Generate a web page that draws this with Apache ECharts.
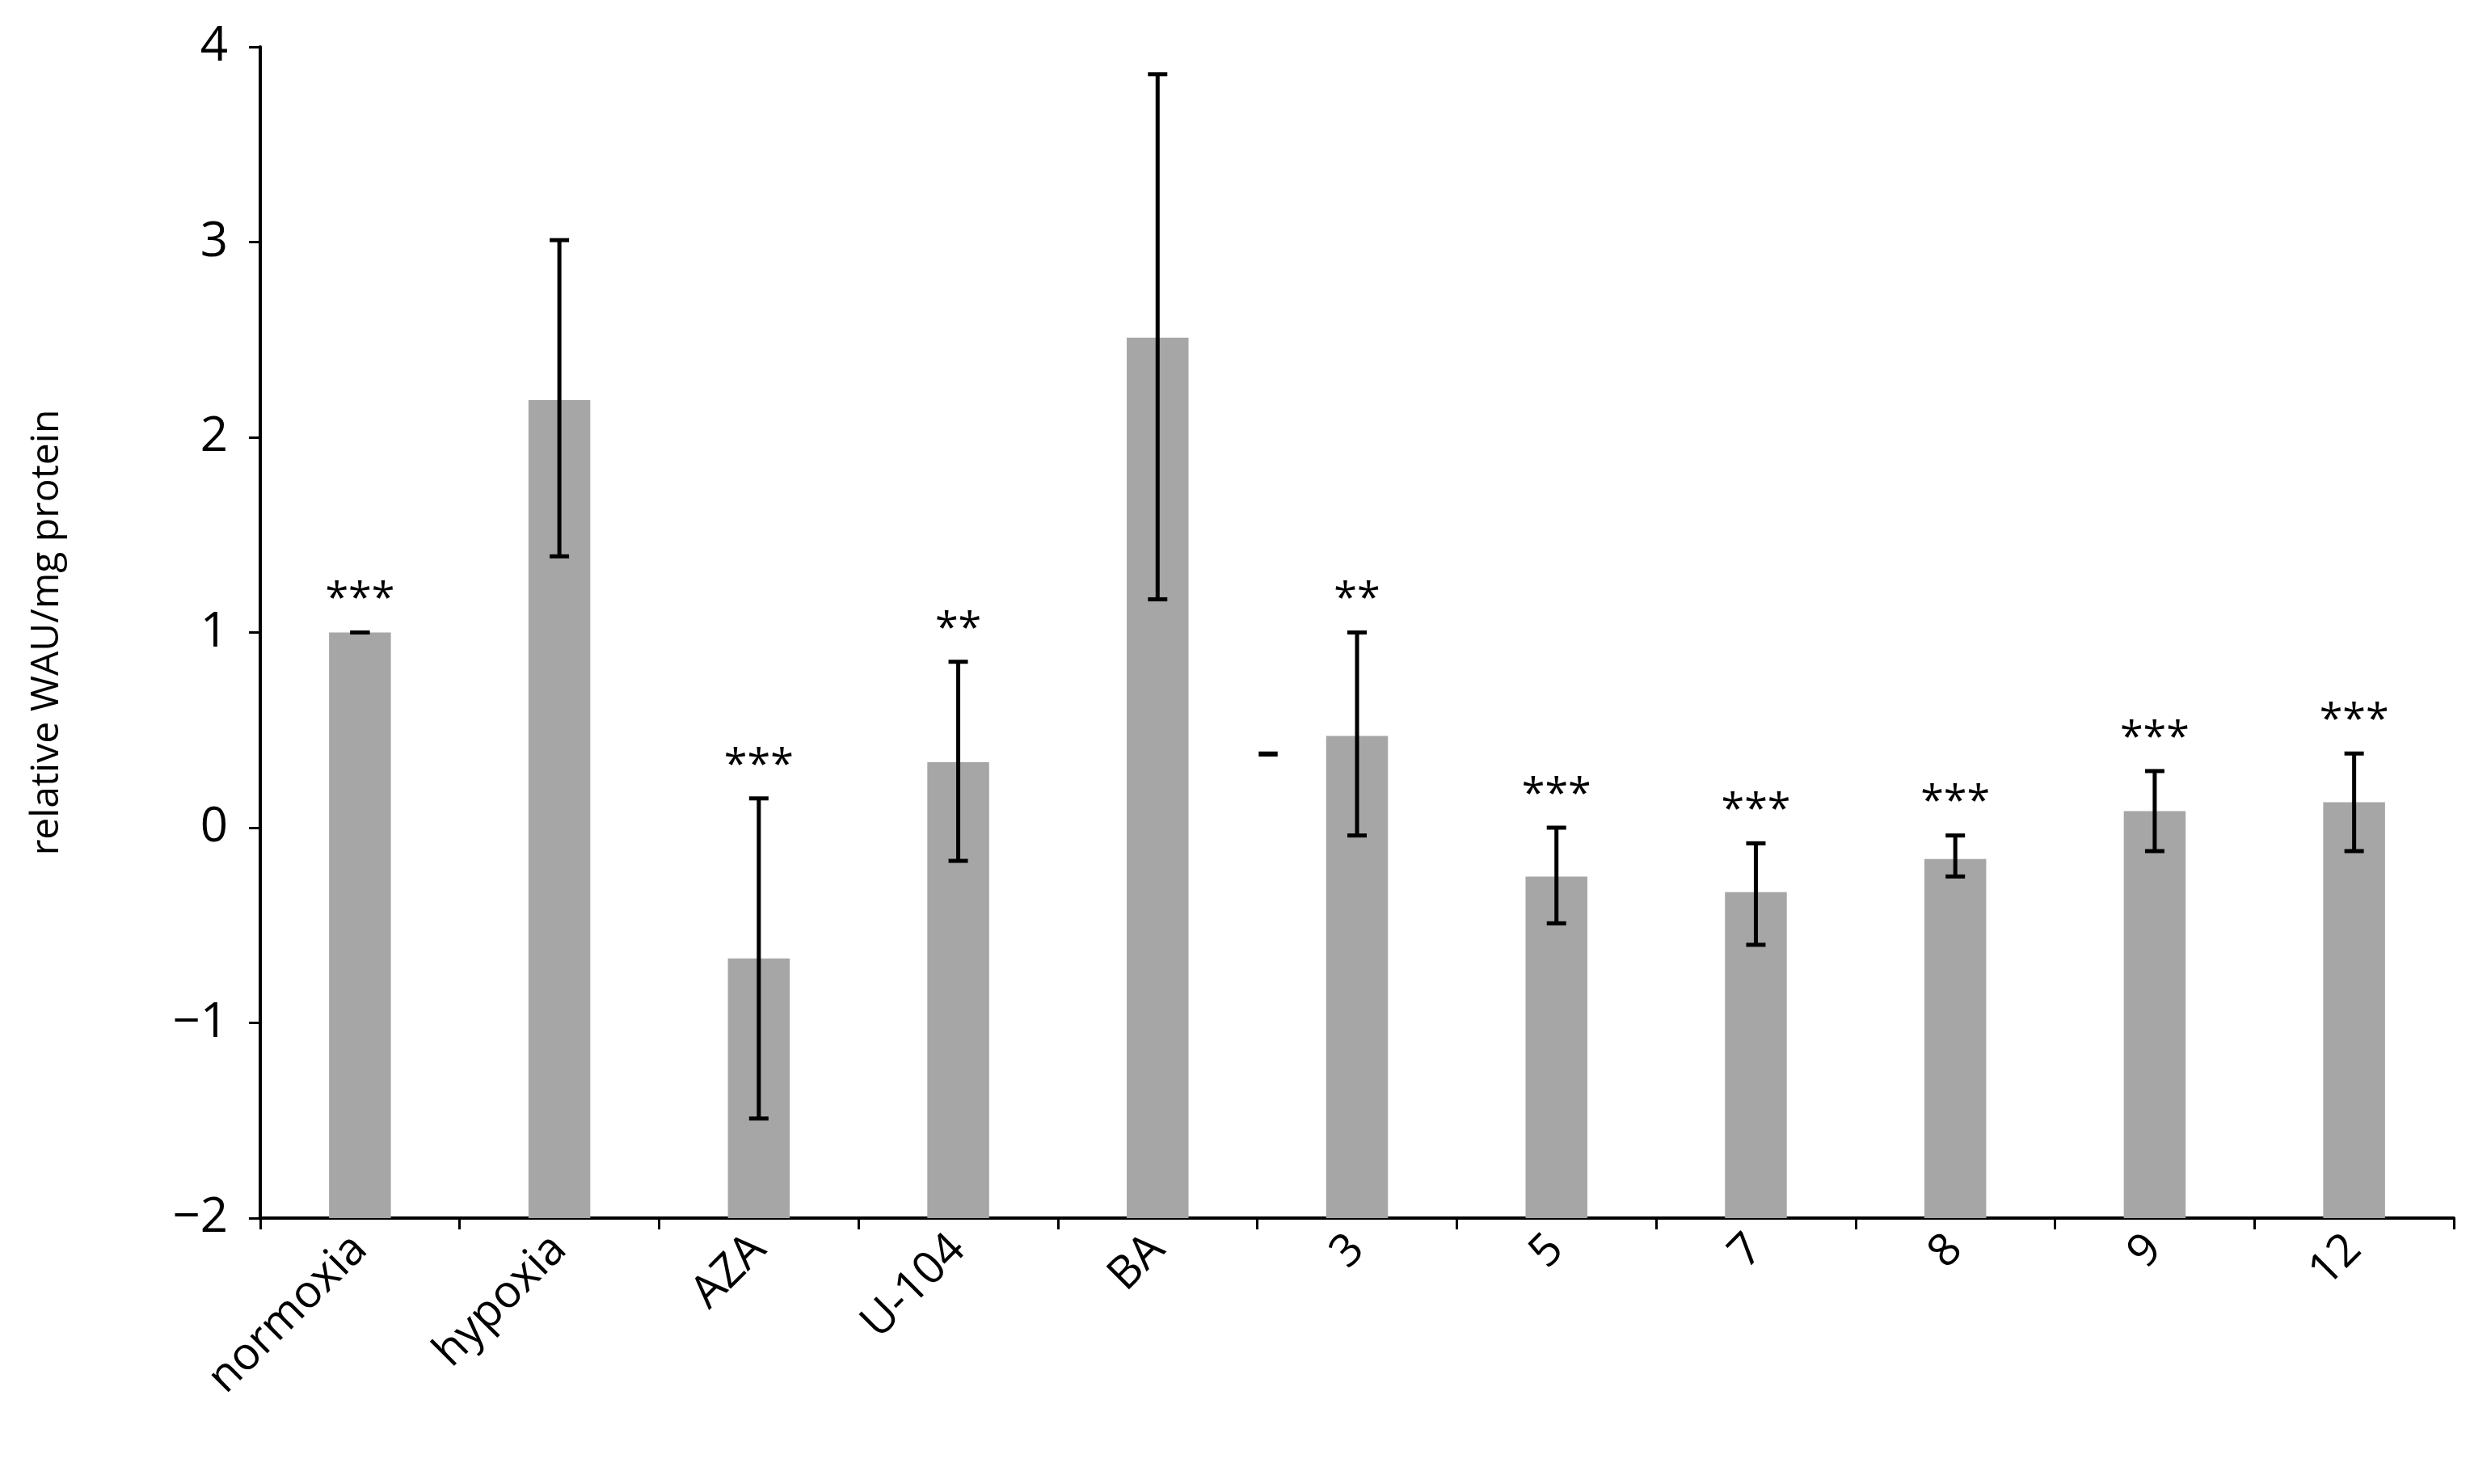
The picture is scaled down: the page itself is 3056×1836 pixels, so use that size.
<!DOCTYPE html>
<html><head><meta charset="utf-8">
<script src="https://cdn.jsdelivr.net/npm/echarts@6/dist/echarts.min.js"></script>
<style>html,body{margin:0;background:#fff}#c{width:3056px;height:1836px}</style>
</head><body><div id="c"></div>
<script>
var categories = ['normoxia','hypoxia','AZA','U-104','BA','3','5','7','8','9','12'];
var means = [1.0, 2.19, -0.67, 0.335, 2.51, 0.47, -0.25, -0.33, -0.16, 0.085, 0.13];
var errLow = [1.0, 1.39, -1.49, -0.17, 1.17, -0.04, -0.49, -0.6, -0.25, -0.12, -0.12];
var errHigh = [1.0, 3.01, 0.15, 0.85, 3.86, 1.0, 0.0, -0.08, -0.04, 0.29, 0.38];
var stars = ['***','','***','**','','**','***','***','***','***','***'];
var yMin = -2, yMax = 4;

var chart = echarts.init(document.getElementById('c'));
var font = 'Open Sans';
chart.setOption({
  animation: false,
  grid: {left: 322, right: 20, top: 58, bottom: 329},
  xAxis: {
    type: 'category', data: categories,
    axisLine: {onZero: false, lineStyle: {color: '#000', width: 4}},
    axisTick: {show: true, length: 14, lineStyle: {color: '#000', width: 3}},
    axisLabel: {rotate: 45, color: '#000', fontSize: 56, fontFamily: font, margin: 30}
  },
  yAxis: {
    type: 'value', min: yMin, max: yMax, interval: 1,
    name: 'relative WAU/mg protein', nameLocation: 'middle', nameGap: 240,
    nameTextStyle: {fontSize: 48, fontFamily: font, color: '#000'},
    splitLine: {show: false},
    axisLine: {show: true, lineStyle: {color: '#000', width: 4}},
    axisTick: {show: true, length: 14, lineStyle: {color: '#000', width: 3}},
    axisLabel: {color: '#000', fontSize: 60, fontFamily: font, margin: 40,
      formatter: function (v) { return v < 0 ? '\u2212' + (-v) : v; }}
  },
  series: [{
    type: 'custom',
    data: means.map(function (m, i) { return [i, m, errLow[i], errHigh[i]]; }),
    renderItem: function (params, api) {
      var i = api.value(0);
      var top = api.coord([i, api.value(1)]);
      var base = api.coord([i, yMin]);
      var bw = api.size([1, 0])[0] * 0.31;
      var lo = api.coord([i, api.value(2)]);
      var hi = api.coord([i, api.value(3)]);
      var cap = 12;
      var line = {stroke: '#000', lineWidth: 5};
      var children = [
        {type: 'rect', shape: {x: top[0] - bw / 2, y: top[1], width: bw, height: base[1] - top[1]}, style: {fill: '#a6a6a6'}},
        {type: 'line', shape: {x1: lo[0], y1: lo[1], x2: hi[0], y2: hi[1]}, style: line},
        {type: 'line', shape: {x1: hi[0] - cap, y1: hi[1], x2: hi[0] + cap, y2: hi[1]}, style: line},
        {type: 'line', shape: {x1: lo[0] - cap, y1: lo[1], x2: lo[0] + cap, y2: lo[1]}, style: line}
      ];
      if (stars[i]) {
        children.push({type: 'text', x: hi[0], y: hi[1] - 14,
          style: {text: stars[i], fill: '#000', font: '52px "' + font + '"', align: 'center', verticalAlign: 'bottom'}});
      }
      if (i === 5) {
        children.push({type: 'text', x: hi[0] - 110, y: api.coord([i, 0.38])[1],
          style: {text: '\u2013', fill: '#000', font: 'bold 56px "' + font + '"', align: 'center', verticalAlign: 'middle'}});
      }
      return {type: 'group', children: children};
    }
  }]
});
</script></body></html>
